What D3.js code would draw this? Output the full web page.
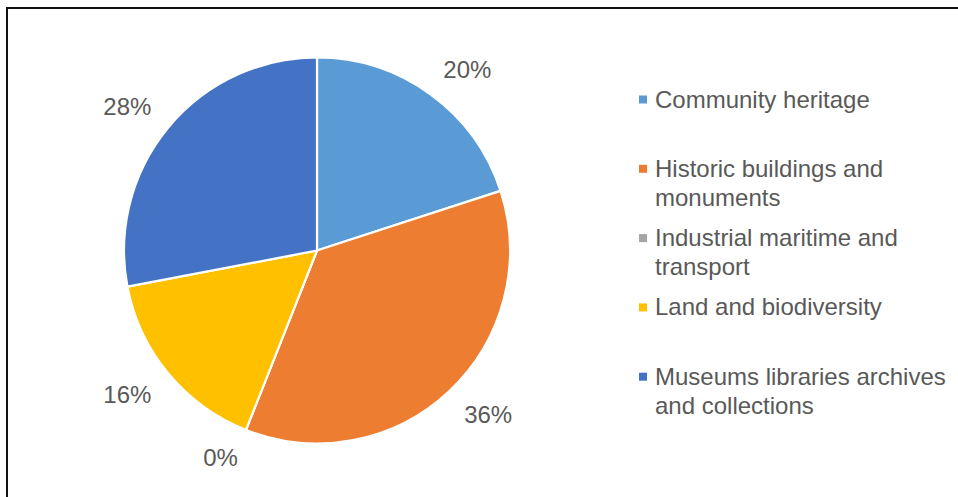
<!DOCTYPE html>
<html>
<head>
<meta charset="utf-8">
<script src="https://cdn.jsdelivr.net/npm/d3@7"></script>
<style>
  html, body { margin: 0; padding: 0; background: #fff; }
  svg { display: block; }
  text { font-family: "Liberation Sans", Arial, sans-serif; fill: #595959; }
</style>
</head>
<body>
<svg id="chart" width="958" height="497"></svg>
<script>
// Share of projects by heritage area (percent)
const categories = [
  "Community heritage",
  "Historic buildings and monuments",
  "Industrial maritime and transport",
  "Land and biodiversity",
  "Museums libraries archives and collections"
];
const values = [20, 36, 0, 16, 28];
const legendLines = [
  ["Community heritage"],
  ["Historic buildings and", "monuments"],
  ["Industrial maritime and", "transport"],
  ["Land and biodiversity"],
  ["Museums libraries archives", "and collections"]
];
const colors = ["#5B9BD5", "#ED7D31", "#A5A5A5", "#FFC000", "#4472C4"];

const svg = d3.select("#chart");
const W = 958, H = 497;

// Outer frame (continues past the right and bottom edges)
svg.append("rect")
  .attr("x", 7).attr("y", 8)
  .attr("width", W + 20).attr("height", H + 20)
  .attr("fill", "none")
  .attr("stroke", "#111")
  .attr("stroke-width", 2);

const cx = 317, cy = 250.5, R = 193;
const color = d3.scaleOrdinal().domain(categories).range(colors);

const pie = d3.pie().sort(null).value(d => d.value);
const data = categories.map((c, i) => ({ name: c, value: values[i] }));
const arcs = pie(data);
const arc = d3.arc().innerRadius(0).outerRadius(R);

const g = svg.append("g").attr("transform", `translate(${cx},${cy})`);

g.selectAll("path.slice")
  .data(arcs)
  .join("path")
  .attr("class", "slice")
  .attr("d", arc)
  .attr("fill", d => color(d.data.name))
  .attr("stroke", "#fff")
  .attr("stroke-width", 2.2)
  .attr("stroke-linejoin", "round");

// Percentage labels placed just outside each slice's outer edge
const fmt = d => `${d.data.value}%`;
const labelR = R + 22;
const labelFont = 24;
const labels = g.selectAll("text.pct")
  .data(arcs)
  .join("text")
  .attr("class", "pct")
  .attr("font-size", labelFont)
  .attr("text-anchor", "middle")
  .text(fmt);

labels.each(function(d) {
  const a = (d.startAngle + d.endAngle) / 2;
  const dx = Math.sin(a), dy = -Math.cos(a);
  const w = this.getComputedTextLength();
  const halfH = 7;
  const bx = dx * labelR + Math.sign(dx) * w / 2;
  const my = dy * labelR + Math.sign(dy) * halfH;
  d3.select(this).attr("x", bx).attr("y", my + 0.358 * labelFont);
});

// Legend
const legendX = 639, legendY0 = 99.5, legendStep = 69.3, lineH = 29;
const lg = svg.append("g");
const items = lg.selectAll("g.item")
  .data(categories)
  .join("g")
  .attr("class", "item")
  .attr("transform", (d, i) => `translate(${legendX},${legendY0 + i * legendStep})`);

items.append("rect")
  .attr("x", 0).attr("y", -4)
  .attr("width", 8).attr("height", 8)
  .attr("fill", d => color(d));

items.append("text")
  .attr("x", 16)
  .attr("font-size", 24)
  .selectAll("tspan")
  .data((d, i) => legendLines[i])
  .join("tspan")
  .attr("x", 16)
  .attr("y", (d, j) => 8 + j * lineH)
  .text(d => d);
</script>
</body>
</html>
